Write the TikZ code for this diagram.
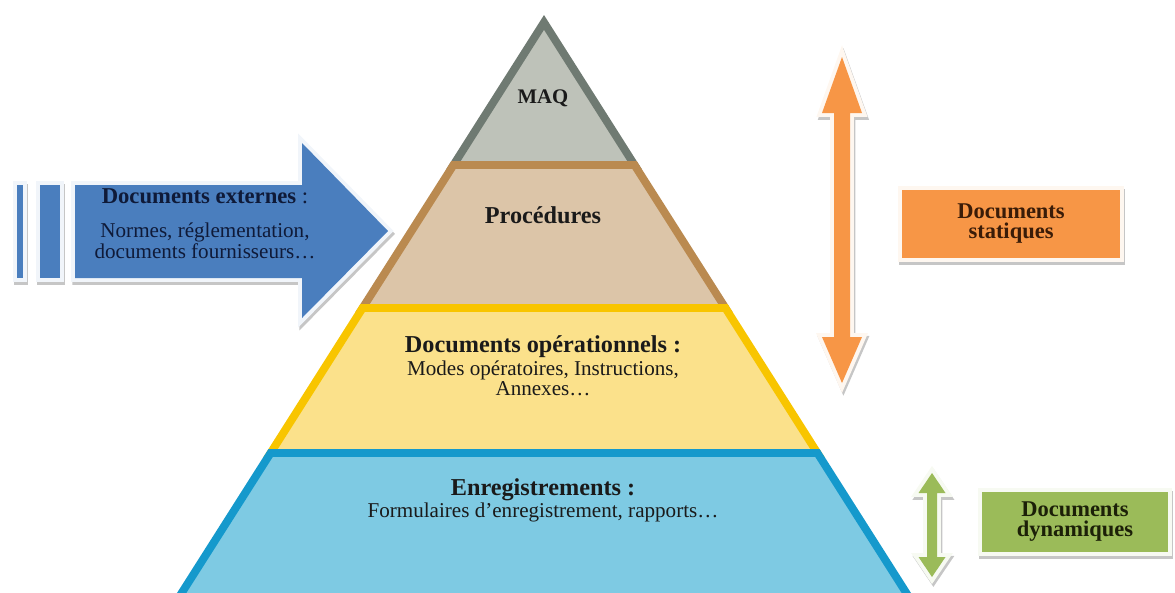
\documentclass[tikz,border=0pt]{standalone}
\usepackage{fontspec}
\setmainfont{Liberation Serif}
\usetikzlibrary{shadows}
\definecolor{maqfill}{HTML}{BEC2B9}
\definecolor{maqline}{HTML}{6F7A72}
\definecolor{procfill}{HTML}{DCC5A8}
\definecolor{procline}{HTML}{BA8A50}
\definecolor{opfill}{HTML}{FBE18B}
\definecolor{opline}{HTML}{F8C500}
\definecolor{regfill}{HTML}{7ECAE3}
\definecolor{regline}{HTML}{1599CC}
\definecolor{extblue}{HTML}{4A7EBE}
\definecolor{statorange}{HTML}{F79646}
\definecolor{dyngreen}{HTML}{9BBB59}
\definecolor{darktext}{HTML}{1A1A1A}
\definecolor{exttext}{HTML}{0F1A38}
\definecolor{stattext}{HTML}{3A1C08}
\definecolor{dyntext}{HTML}{1C2008}
\tikzset{
  layer/.style 2 args={
    fill=#1, draw=#2, line width=4.5pt, line join=miter
  },
  glowshape/.style={
    fill=#1,
    drop shadow={shadow xshift=0.8pt, shadow yshift=-1.6pt, fill=gray!45,
                 draw=gray!45, line width=4.5pt, opacity=1},
    preaction={draw=#1!8, line width=4.5pt}
  },
  sidebox/.style={
    rectangle, glowshape=#1, minimum width=4.36cm, minimum height=1.36cm,
    align=center, font=\fontsize{12.8}{11.4}\selectfont\bfseries
  }
}

\begin{document}
\begin{tikzpicture}[x=0.2mm, y=-0.2mm,
  title/.style={anchor=base, font=\fontsize{13.8}{15}\selectfont\bfseries, text=darktext},
  body/.style={align=center, font=\fontsize{12}{11.6}\selectfont, text=darktext},
]
  \useasboundingbox (0,0) rectangle (1175,592);
  \clip (0,0) rectangle (1175,592);

  % Pyramid, top band first so each lower band covers the seam above it
  \draw[layer={maqfill}{maqline}] (544,22.4) -- (634.5,165) -- (453.5,165) -- cycle;
  \draw[layer={procfill}{procline}] (453.5,165) -- (634.5,165) -- (725.4,308) -- (362.6,308) -- cycle;
  \draw[layer={opfill}{opline}] (362.6,308) -- (725.4,308) -- (817.4,453) -- (270.6,453) -- cycle;
  \draw[layer={regfill}{regline}] (270.6,453) -- (817.4,453) -- (910.8,600) -- (177.2,600) -- cycle;

  % Band labels
  \node[title, font=\fontsize{11.8}{13}\selectfont\bfseries] (maq) at (543,103) {MAQ};
  \node[title] (proc) at (543,223) {Procédures};
  \node[title] (op) at (543,352) {Documents opérationnels :};
  \node[body] (oplist) at (543,378) {Modes opératoires, Instructions,\\Annexes…};
  \node[title] (reg) at (543,495) {Enregistrements :};
  \node[body, anchor=base] (reglist) at (543,517) {Formulaires d’enregistrement, rapports…};

  % Striped arrow for external documents
  \path[glowshape=extblue] (17,185) rectangle (23,278);
  \path[glowshape=extblue] (40,185) rectangle (60,278);
  \path[glowshape=extblue] (75,185) -- (302,185) -- (302,143) -- (388,231)
    -- (302,318) -- (302,278) -- (75,278) -- cycle;
  \node[anchor=base, font=\fontsize{12.9}{14}\selectfont, text=exttext] (ext) at (205,203)
    {\textbf{Documents externes} :};
  \node[body, text=exttext] (extlist) at (205,241) {Normes, réglementation,\\documents fournisseurs…};

  % Static documents
  \path[glowshape=statorange] (842,57) -- (862,113) -- (850,113) -- (850,337) -- (862,337)
    -- (842,383) -- (822,337) -- (834,337) -- (834,113) -- (822,113) -- cycle;
  \node[sidebox=statorange, text=stattext] (static) at (1011,224) {Documents\\statiques};

  % Dynamic documents
  \path[glowshape=dyngreen] (932,473) -- (945.5,493) -- (937,493) -- (937,557) -- (945.5,557)
    -- (932,577) -- (918.5,557) -- (927,557) -- (927,493) -- (918.5,493) -- cycle;
  \node[sidebox=dyngreen, minimum width=3.72cm, minimum height=1.2cm, text=dyntext] (dynamic)
    at (1075,522) {Documents\\dynamiques};

\end{tikzpicture}
\end{document}
